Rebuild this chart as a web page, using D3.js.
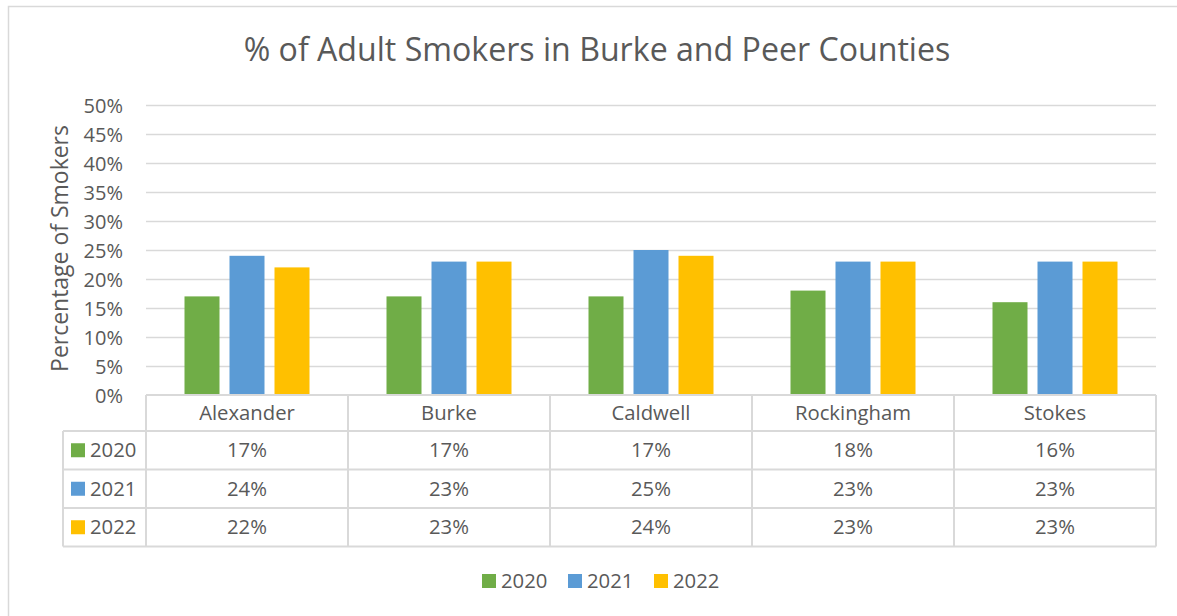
<!DOCTYPE html>
<html>
<head>
<meta charset="utf-8">
<script src="https://cdn.jsdelivr.net/npm/d3@7/dist/d3.min.js"></script>
<style>
  html, body { margin: 0; padding: 0; background: #fff; }
  svg { display: block; }
  text { font-family: "Open Sans", "Liberation Sans", sans-serif; fill: #595959; }
</style>
</head>
<body>
<svg id="chart" width="1177" height="616"></svg>
<script>
// Chart data
const counties = ["Alexander", "Burke", "Caldwell", "Rockingham", "Stokes"];
const years = ["2020", "2021", "2022"];
const values2020 = [17, 17, 17, 18, 16];
const values2021 = [24, 23, 25, 23, 23];
const values2022 = [22, 23, 24, 23, 23];
const yTicks = [0, 5, 10, 15, 20, 25, 30, 35, 40, 45, 50];
const colors = ["#70ad47", "#5b9bd5", "#ffc000"];

const seriesValues = [values2020, values2021, values2022];

const svg = d3.select("#chart");
const gridColor = "#d9d9d9";
const labelSize = 20.3;

// Chart area frame
svg.append("rect")
  .attr("x", 8.5).attr("y", 6.5)
  .attr("width", 1200).attr("height", 700)
  .attr("fill", "#fff")
  .attr("stroke", gridColor).attr("stroke-width", 1.5);

const plot = { left: 146, right: 1156, top: 105, bottom: 395 };

const x = d3.scaleBand().domain(counties).range([plot.left, plot.right]).padding(0);
const groupWidth = 125;
const xInner = d3.scaleBand().domain(years).range([0, groupWidth]).paddingInner(10 / 45).paddingOuter(0);
const y = d3.scaleLinear().domain([0, 50]).range([plot.bottom, plot.top]);

// Fit a text element to a target width by adjusting font size
function fitWidth(sel, target) {
  const node = sel.node();
  const fs = parseFloat(sel.attr("font-size"));
  const w = node.getComputedTextLength();
  if (w > 0) sel.attr("font-size", (fs * target / w).toFixed(2));
  return sel;
}

// Title
const title = svg.append("text")
  .attr("x", 597).attr("y", 61)
  .attr("text-anchor", "middle")
  .attr("font-size", 30)
  .text("% of Adult Smokers in Burke and Peer Counties");
fitWidth(title, 707);

// Gridlines
svg.append("g")
  .selectAll("line")
  .data(yTicks.filter(d => d > 0))
  .join("line")
  .attr("x1", plot.left).attr("x2", plot.right)
  .attr("y1", d => y(d) + 0.5).attr("y2", d => y(d) + 0.5)
  .attr("stroke", gridColor).attr("stroke-width", 1.3);

// Y axis labels
const yAxis = d3.axisLeft(y).tickValues(yTicks).tickFormat(d => d + "%").tickSize(0).tickPadding(0);
const yg = svg.append("g").attr("transform", `translate(${plot.left - 23},0)`).call(yAxis);
yg.select(".domain").remove();
yg.selectAll("text")
  .attr("font-size", 20)
  .attr("font-family", "Open Sans, sans-serif")
  .attr("fill", "#595959")
  .attr("dy", "0.35em");

// Y axis title
const yTitle = svg.append("text")
  .attr("transform", "translate(68,248.5) rotate(-90)")
  .attr("text-anchor", "middle")
  .attr("font-size", 20)
  .text("Percentage of Smokers");
fitWidth(yTitle, 247);

// Bars
const groups = svg.append("g")
  .selectAll("g")
  .data(counties)
  .join("g")
  .attr("transform", d => `translate(${x(d) + (x.bandwidth() - groupWidth) / 2},0)`);

groups.selectAll("rect")
  .data((c, i) => years.map((yr, s) => ({ year: yr, value: seriesValues[s][i], s })))
  .join("rect")
  .attr("x", d => xInner(d.year))
  .attr("width", xInner.bandwidth())
  .attr("y", d => y(d.value))
  .attr("height", d => y(0) - y(d.value))
  .attr("fill", d => colors[d.s]);

// Data table beneath the plot
const rowH = 38.5;
const headerTop = plot.bottom;
const headerBottom = 431;
const rowTops = years.map((_, i) => headerBottom + i * rowH);
const tableBottom = headerBottom + years.length * rowH;
const tableLeft = 63;

const table = svg.append("g").attr("stroke", gridColor).attr("stroke-width", 2).attr("fill", "none");
// horizontal lines
table.append("line").attr("x1", plot.left).attr("x2", plot.right).attr("y1", headerTop).attr("y2", headerTop);
[headerBottom, ...rowTops.slice(1), tableBottom].forEach(yy => {
  table.append("line").attr("x1", tableLeft).attr("x2", plot.right).attr("y1", yy).attr("y2", yy);
});
// vertical lines
table.append("line").attr("x1", tableLeft).attr("x2", tableLeft).attr("y1", headerBottom).attr("y2", tableBottom);
counties.forEach(c => {
  table.append("line").attr("x1", x(c)).attr("x2", x(c)).attr("y1", headerTop).attr("y2", tableBottom);
});
table.append("line").attr("x1", plot.right).attr("x2", plot.right).attr("y1", headerTop).attr("y2", tableBottom);

// Category header labels
svg.append("g")
  .selectAll("text")
  .data(counties)
  .join("text")
  .attr("x", d => x(d) + x.bandwidth() / 2)
  .attr("y", (headerTop + headerBottom) / 2)
  .attr("dy", "0.35em")
  .attr("text-anchor", "middle")
  .attr("font-size", labelSize)
  .text(d => d);

// Row labels with colour keys
years.forEach((yr, s) => {
  const cy = rowTops[s] + rowH / 2;
  svg.append("rect")
    .attr("x", 71).attr("y", cy - 7)
    .attr("width", 14).attr("height", 14)
    .attr("fill", colors[s]);
  svg.append("text")
    .attr("x", 90).attr("y", cy)
    .attr("dy", "0.35em")
    .attr("font-size", labelSize)
    .text(yr);
  svg.append("g")
    .selectAll("text")
    .data(counties)
    .join("text")
    .attr("x", d => x(d) + x.bandwidth() / 2)
    .attr("y", cy)
    .attr("dy", "0.35em")
    .attr("text-anchor", "middle")
    .attr("font-size", labelSize)
    .text((d, i) => seriesValues[s][i] + "%");
});

// Bottom legend
const legendX = [482, 568, 654];
years.forEach((yr, s) => {
  svg.append("rect")
    .attr("x", legendX[s]).attr("y", 574)
    .attr("width", 14).attr("height", 14)
    .attr("fill", colors[s]);
  svg.append("text")
    .attr("x", legendX[s] + 19).attr("y", 581)
    .attr("dy", "0.35em")
    .attr("font-size", labelSize)
    .text(yr);
});
</script>
</body>
</html>
